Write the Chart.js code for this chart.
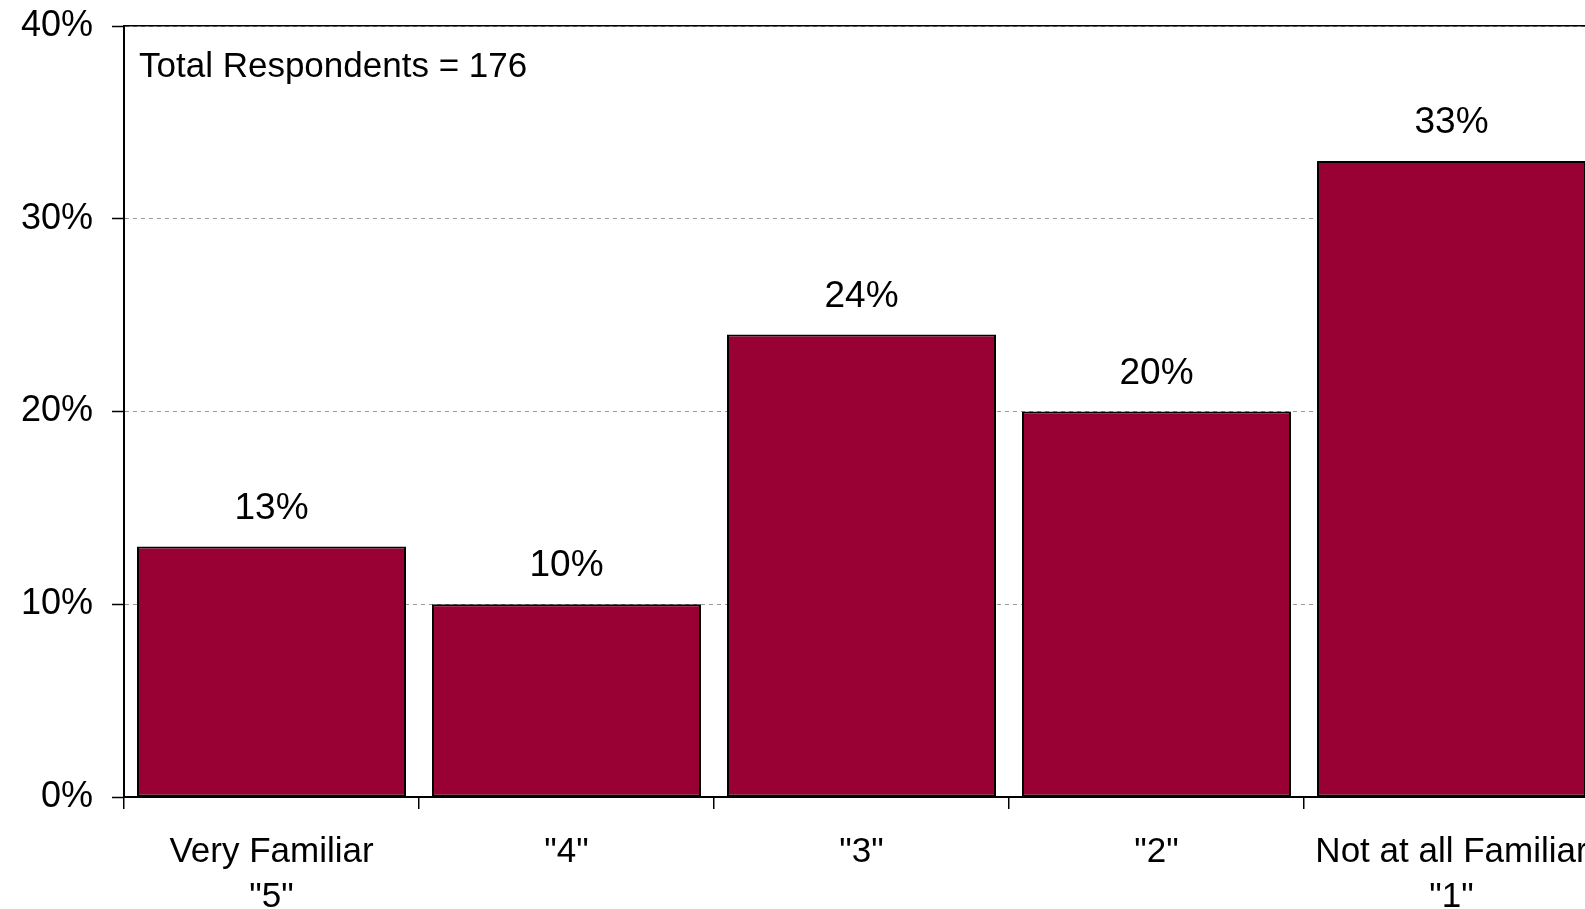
<!DOCTYPE html>
<html>
<head>
<meta charset="utf-8">
<title>Familiarity</title>
<script src="https://cdn.jsdelivr.net/npm/chart.js@4/dist/chart.umd.min.js"></script>
<style>
  html, body { margin: 0; padding: 0; background: #fff; overflow: hidden; }
  canvas { display: block; }
</style>
</head>
<body>
<canvas id="familiarChart" width="1620" height="909"></canvas>
<script>
const categories = [["Very Familiar", '"5"'], '"4"', '"3"', '"2"', ["Not at all Familiar", '"1"']];
const percentages = [13, 10, 24, 20, 33];
const yTicks = [0, 10, 20, 30, 40];
const totalRespondents = 176;

const fontFamily = "'Liberation Sans', Arial, sans-serif";
const fontSize = 35;
const numberSize = 37;

Chart.defaults.font.family = fontFamily;
Chart.defaults.font.size = fontSize;
Chart.defaults.color = "#000";

// percentage printed above each bar
const barValueLabels = {
  id: "barValueLabels",
  afterDatasetsDraw(chart) {
    const ctx = chart.ctx;
    ctx.save();
    ctx.font = `${numberSize}px ${fontFamily}`;
    ctx.fillStyle = "#000";
    ctx.textAlign = "center";
    ctx.textBaseline = "middle";
    chart.getDatasetMeta(0).data.forEach((bar, i) => {
      ctx.fillText(percentages[i] + "%", bar.x, bar.y - 38);
    });
    ctx.restore();
  },
};

// respondent count, top-left inside the plot
const respondentNote = {
  id: "respondentNote",
  afterDraw(chart) {
    const { ctx, chartArea } = chart;
    ctx.save();
    ctx.font = `${fontSize}px ${fontFamily}`;
    ctx.fillStyle = "#000";
    ctx.textAlign = "left";
    ctx.textBaseline = "middle";
    ctx.fillText(`Total Respondents = ${totalRespondents}`, chartArea.left + 15, chartArea.top + 41);
    ctx.restore();
  },
};

const ctx = document.getElementById("familiarChart").getContext("2d");
new Chart(ctx, {
  type: "bar",
  data: {
    labels: categories,
    datasets: [
      {
        data: percentages,
        backgroundColor: "#990033",
        borderColor: "#000",
        borderWidth: 2,
        borderSkipped: false,
        categoryPercentage: 1,
        barPercentage: 0.912,
      },
    ],
  },
  options: {
    responsive: false,
    animation: false,
    devicePixelRatio: 1,
    layout: { padding: { top: 26, right: 21, bottom: 0, left: 0 } },
    plugins: {
      legend: { display: false },
      tooltip: { enabled: false },
    },
    scales: {
      x: {
        grid: {
          offset: true,
          drawOnChartArea: false,
          drawTicks: true,
          tickLength: 12,
          tickColor: "#000",
          color: "#000",
          lineWidth: 1.5,
        },
        border: { display: true, color: "#000", width: 2 },
        ticks: {
          padding: 21,
          maxRotation: 0,
          autoSkip: false,
          font: { size: fontSize, lineHeight: "45px" },
        },
        afterFit: (axis) => {
          axis.height = 112;
        },
      },
      // top edge of the plot frame
      xTop: {
        type: "category",
        position: "top",
        grid: { display: false, drawTicks: false },
        ticks: { display: false },
        border: { display: true, color: "#000", width: 1.5 },
        afterFit: (axis) => {
          axis.height = 0;
        },
      },
      y: {
        min: 0,
        max: 40,
        afterBuildTicks: (axis) => {
          axis.ticks = yTicks.map((v) => ({ value: v }));
        },
        grid: {
          color: "#999",
          lineWidth: 1,
          tickLength: 12,
          tickColor: "#000",
          tickWidth: 1.5,
          tickBorderDash: [],
        },
        border: { display: true, color: "#000", width: 2, dash: [4, 4] },
        ticks: {
          padding: 19,
          font: { size: 36 },
          callback: (value) => value + "%",
        },
        afterFit: (axis) => {
          axis.width = 124;
          axis.paddingTop = 0;
          axis.paddingBottom = 0;
        },
      },
    },
  },
  plugins: [barValueLabels, respondentNote],
});
</script>
</body>
</html>
